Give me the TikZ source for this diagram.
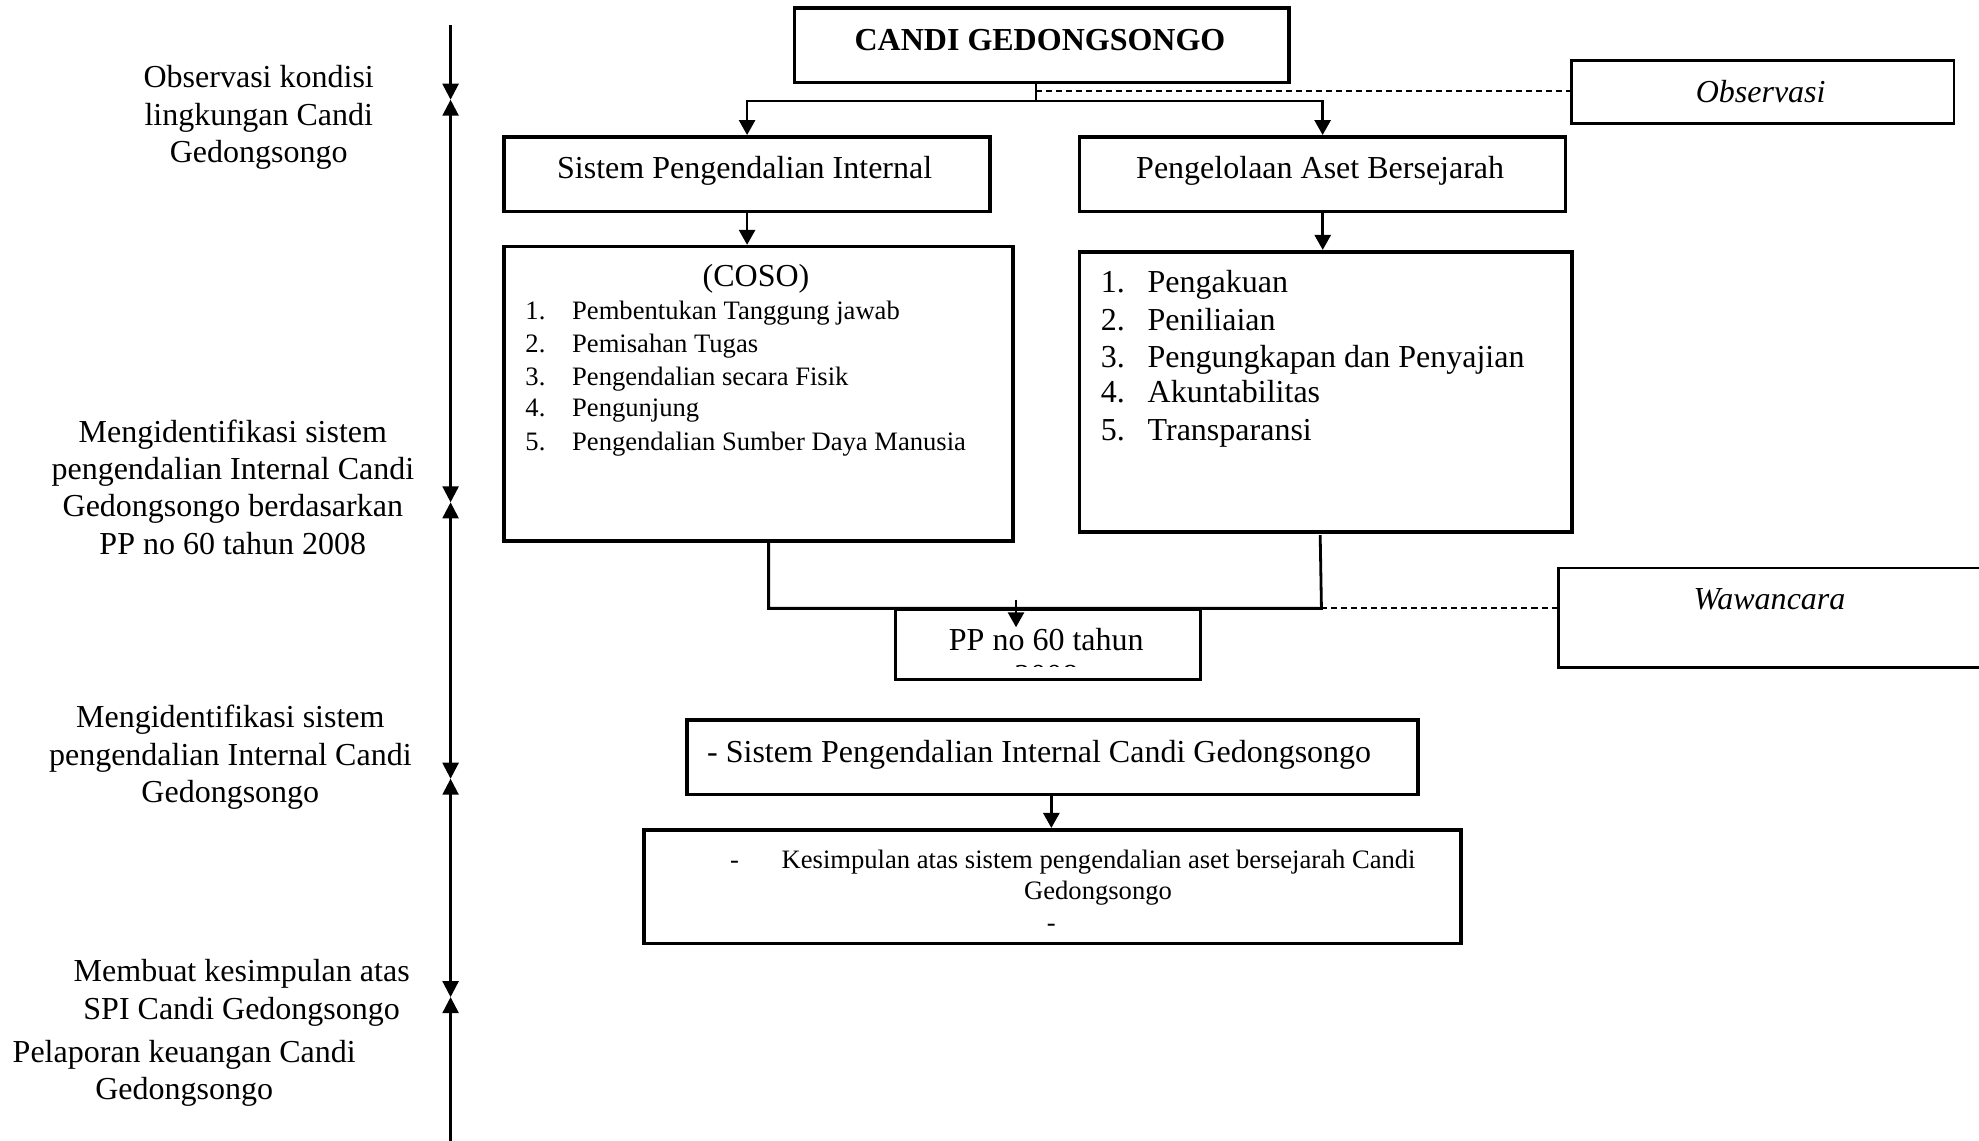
\documentclass[tikz,border=0pt]{standalone}
\usepackage{fontspec}
\setmainfont{Liberation Serif}
\usetikzlibrary{arrows.meta}
\newlength\pxu
\setlength\pxu{0.63095pt}
\newcommand\fbig{\fontsize{16pt}{18.6pt}\selectfont}
\newcommand\fsmall{\fontsize{13.3pt}{16.4pt}\selectfont}
\tikzset{
  box/.style={draw, line width=1.8pt, inner sep=0pt, anchor=north west},
  thinbox/.style={draw, line width=1.2pt, inner sep=0pt, anchor=north west},
  txt/.style={inner sep=0pt, anchor=base, font=\fbig, yshift=-1.3pt},
  txtl/.style={inner sep=0pt, anchor=base west, font=\fbig, yshift=-1.3pt},
  stxt/.style={inner sep=0pt, anchor=base west, font=\fsmall, yshift=-1.3pt},
  side/.style={inner sep=0pt, align=center, font=\fbig, yshift=-1.3pt},
  conn/.style={line width=1.4pt, -{Triangle[length=7.5pt,width=8pt]}},
  plainconn/.style={line width=1.4pt},
  axis/.style={line width=1.2pt},
  axd/.style={axis, -{Triangle[length=8pt,width=8pt]}},
  axu/.style={axis, {Triangle[length=8pt,width=8pt]}-},
  axb/.style={axis, {Triangle[length=8pt,width=8pt]}-{Triangle[length=8pt,width=8pt]}},
  dashconn/.style={line width=0.9pt, dash pattern=on 3pt off 2pt}
}
\begin{document}
\begin{tikzpicture}[x=0.63095pt, y=-0.63095pt]
\useasboundingbox (0,0) rectangle (1568,904);

% left axis
\coordinate (a0) at (357,20);
\coordinate (a1) at (357,79);
\coordinate (a2) at (357,398);
\coordinate (a3) at (357,617);
\coordinate (a4) at (357,790);
\coordinate (a5) at (357,904);
\draw[axd] (a0) -- (a1);
\draw[axb] (a1) -- (a2);
\draw[axb] (a2) -- (a3);
\draw[axb] (a3) -- (a4);
\draw[axu] (a4) -- (a5);

% left texts
\node[side] (s1) at (205,91) {Observasi kondisi\\lingkungan Candi\\Gedongsongo};
\node[side] (s2) at (184.5,384) {Mengidentifikasi sistem\\pengendalian Internal Candi\\Gedongsongo berdasarkan\\PP no 60 tahun 2008};
\node[side] (s3) at (182.5,598) {Mengidentifikasi sistem\\pengendalian Internal Candi\\Gedongsongo};
\node[side] (s4) at (191.5,784.5) {Membuat kesimpulan atas\\SPI Candi Gedongsongo};
\node[side] (s5) at (146,848.5) {Pelaporan keuangan Candi\\Gedongsongo};

% top box
\node[box, minimum width=392*\pxu, minimum height=59*\pxu] (candi) at (628,5) {};
\node[txt, font=\fbig\bfseries] (candit) at (824,38) {CANDI GEDONGSONGO};

% observasi
\node[thinbox, minimum width=303*\pxu, minimum height=50*\pxu] (obs) at (1244,47) {};
\node[txt, font=\fbig\itshape] (obst) at (1395,79) {Observasi};

% second row
\node[box, minimum width=385*\pxu, minimum height=59*\pxu] (spi) at (398,107) {};
\node[txt] (spit) at (590,139) {Sistem Pengendalian Internal};
\node[box, minimum width=385*\pxu, minimum height=59*\pxu] (paset) at (854,107) {};
\node[txt] (pasett) at (1046,139) {Pengelolaan Aset Bersejarah};

% connectors from top
\coordinate (j1) at (821,80);
\coordinate (d1) at (821,72);
\draw[line width=1.1pt] (candi.south -| j1) -- (j1);
\draw[conn] (j1) -| (spi.north);
\draw[conn] (j1) -| (paset.north);
\draw[dashconn] (d1) -- (obs.west |- d1);

% COSO box
\node[box, minimum width=403*\pxu, minimum height=233*\pxu] (coso) at (398,194) {};
\node[txt] (cosot) at (599,225) {(COSO)};
\node[stxt] (c1n) at (416,251) {1.};
\node[stxt] (c1) at (453,251) {Pembentukan Tanggung jawab};
\node[stxt] (c2n) at (416,277) {2.};
\node[stxt] (c2) at (453,277) {Pemisahan Tugas};
\node[stxt] (c3n) at (416,303) {3.};
\node[stxt] (c3) at (453,303) {Pengendalian secara Fisik};
\node[stxt] (c4n) at (416,328) {4.};
\node[stxt] (c4) at (453,328) {Pengunjung};
\node[stxt] (c5n) at (416,355) {5.};
\node[stxt] (c5) at (453,355) {Pengendalian Sumber Daya Manusia};

% right list box
\node[box, minimum width=390*\pxu, minimum height=222*\pxu] (lst) at (854,198) {};
\node[txtl] (l1n) at (872,230) {1.};
\node[txtl] (l1) at (909,230) {Pengakuan};
\node[txtl] (l2n) at (872,260) {2.};
\node[txtl] (l2) at (909,260) {Peniliaian};
\node[txtl] (l3n) at (872,289) {3.};
\node[txtl] (l3) at (909,289) {Pengungkapan dan Penyajian};
\node[txtl] (l4n) at (872,317) {4.};
\node[txtl] (l4) at (909,317) {Akuntabilitas};
\node[txtl] (l5n) at (872,347) {5.};
\node[txtl] (l5) at (909,347) {Transparansi};

\draw[conn] (spi.south) -- (spi.south |- coso.north);
\draw[conn] (paset.south -| 1048,0) -- (lst.north -| 1048,0);

% PP box
\node[box, line width=1.5pt, minimum width=242*\pxu, minimum height=55*\pxu] (pp) at (708,482) {};
\node[txt] (ppt) at (829,513) {PP no 60 tahun};
\begin{scope}
\clip (708,500) rectangle (950,528);
\node[txt] (ppt2) at (829,542) {2008};
\end{scope}

% joining lines
\coordinate (m1) at (609,482);
\coordinate (m2) at (1047,482);
\draw[plainconn] (coso.south -| m1) -- (m1) -- (m2) -- (1046,424);
\coordinate (pa1) at (805,475);
\coordinate (pa2) at (805,497);
\draw[conn] (pa1) -- (pa2);

% wawancara
\node[thinbox, minimum width=400*\pxu, minimum height=79*\pxu] (waw) at (1234,449) {};
\node[txt, font=\fbig\itshape] (wawt) at (1402,481) {Wawancara};
\draw[dashconn] (m2) -- (waw.west |- m2);

% lower boxes
\node[box, minimum width=579*\pxu, minimum height=59*\pxu] (spi2) at (543,569) {};
\node[txtl] (spi2t) at (560,602) {- Sistem Pengendalian Internal Candi Gedongsongo};
\node[box, minimum width=647*\pxu, minimum height=90*\pxu] (kes) at (509,656) {};
\node[stxt, anchor=base] (kesd) at (582,686) {-};
\node[stxt] (kest) at (619,686) {Kesimpulan atas sistem pengendalian aset bersejarah Candi};
\node[stxt, anchor=base] (kest2) at (870,711) {Gedongsongo};
\node[stxt, anchor=base] (kesd2) at (833,736) {-};
\draw[conn] (spi2.south -| 833,0) -- (kes.north -| 833,0);

\end{tikzpicture}
\end{document}
